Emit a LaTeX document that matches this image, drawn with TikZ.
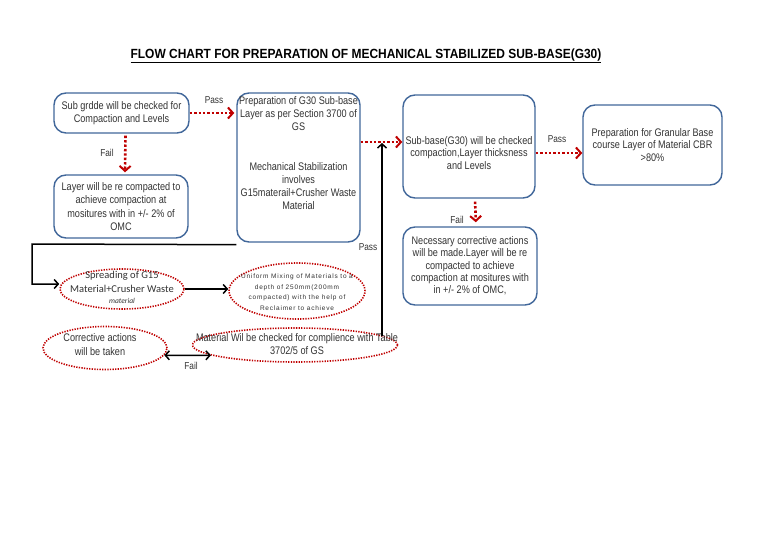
\documentclass[tikz,border=0pt]{standalone}
\usepackage{fontspec}
\setmainfont{Liberation Sans}[FakeStretch=0.83]
\newfontfamily\titlefont{Liberation Sans}[FakeStretch=0.9]
\newfontfamily\calfont{Carlito}
\newfontfamily\smallfont{Liberation Sans}[LetterSpace=12]
\usetikzlibrary{arrows.meta,shapes.geometric}
\definecolor{boxblue}{HTML}{41679A}
\definecolor{dotred}{HTML}{C00000}
\definecolor{txt}{HTML}{333333}
\begin{document}
\begin{tikzpicture}[x=1pt,y=-1pt,
 box/.style={draw=boxblue,line width=1.4pt,rounded corners=12pt,fill=white,align=center,text=txt,font=\fontsize{11}{12.8}\selectfont,inner sep=0pt},
 oval/.style={ellipse,draw=dotred,line width=1.6pt,dash pattern=on 1.3pt off 1.3pt,inner sep=0pt},
 redarrow/.style={draw=dotred,line width=2.6pt,dash pattern=on 2.4pt off 2pt,-{Straight Barb[length=5pt,width=11pt,line width=2pt]}},
 blackarrow/.style={draw=black,line width=1.5pt,-{Straight Barb[length=4pt,width=9pt]}},
 lbl/.style={text=txt,font=\fontsize{10}{11}\selectfont,inner sep=0pt},
 txtnode/.style={align=center,text=txt,font=\fontsize{11}{12.8}\selectfont,inner sep=0pt}]
\useasboundingbox[fill=white] (0,0) rectangle (768,543);

\node[font=\titlefont\fontsize{13.3}{15}\selectfont\bfseries,inner sep=0pt] (title) at (366,56) {\underline{FLOW CHART FOR PREPARATION OF MECHANICAL STABILIZED SUB-BASE(G30)}};

% boxes
\node[box,minimum width=135pt,minimum height=40pt] (b1) at (121.5,113) {Sub grdde will be checked for\\Compaction and Levels};
\node[box,minimum width=134pt,minimum height=63pt,font=\fontsize{11}{13.3}\selectfont] (b2) at (121,206.5) {Layer will be re compacted to\\achieve compaction at\\mositures with in +/- 2\% of\\OMC};
\node[box,minimum width=123pt,minimum height=149pt] (b3) at (298.5,167.5) {};
\node[txtnode,font=\fontsize{11}{13.1}\selectfont] (t3) at (298.5,153) {Preparation of G30 Sub-base\\Layer as per Section 3700 of\\GS\\[26.5pt]Mechanical Stabilization\\involves\\G15materail+Crusher Waste\\Material};
\node[box,minimum width=132pt,minimum height=103pt] (b4) at (469,146.5) {};
\node[txtnode] (t4) at (469,153) {Sub-base(G30) will be checked\\compaction,Layer thicksness\\and Levels};
\node[box,minimum width=139pt,minimum height=80pt] (b5) at (652.5,145) {Preparation for Granular Base\\course Layer of Material CBR\\>80\%};
\node[box,minimum width=134pt,minimum height=78pt,font=\fontsize{11}{12.3}\selectfont] (b6) at (470,266) {Necessary corrective actions\\will be made.Layer will be re\\compacted to achieve\\compaction at mositures with\\in +/- 2\% of OMC,};

% ellipses
\node[oval,minimum width=124pt,minimum height=40pt] (e1) at (122,289) {};
\node[align=center,text=txt,inner sep=0pt,font=\calfont\fontsize{10.5}{14}\selectfont] (t5) at (122,287) {Spreading of G15\\Material+Crusher Waste\\[-3pt]{\itshape\fontsize{7.5}{8}\selectfont material}};
\node[oval,minimum width=136pt,minimum height=56pt] (e2) at (297,291) {};
\node[align=center,text=txt,inner sep=0pt,font=\smallfont\fontsize{6.5}{10.6}\selectfont] (t6) at (297,292) {Uniform Mixing of Materials to a\\depth of 250mm(200mm\\compacted) with the help of\\Reclaimer to achieve};
\node[oval,minimum width=124pt,minimum height=43pt] (e3) at (105,348) {};
\node[txtnode,font=\fontsize{11}{14}\selectfont] (t7) at (100,345) {Corrective actions\\will be taken};
\node[oval,minimum width=205pt,minimum height=34pt] (e4) at (295,345) {};
\node[txtnode,font=\fontsize{11}{13}\selectfont] (t8) at (297,344) {Material Wil be checked for complience with Table\\3702/5 of GS};

% red connectors
\draw[redarrow,shorten >=2pt] (b1.east) -- (b1.east -| b3.west);
\draw[redarrow,shorten >=2pt,shorten <=2pt] ([xshift=4pt]b1.south) -- ([xshift=4pt]b2.north);
\draw[redarrow] ([yshift=25.5pt]b3.east) -- ([yshift=25.5pt]b3.east -| b4.west);
\draw[redarrow] ([yshift=-6.5pt]b4.east) -- ([yshift=-6.5pt]b4.east -| b5.west);
\draw[redarrow,shorten <=3pt,shorten >=4pt] ([xshift=6pt]b4.south) -- ([xshift=6pt]b6.north);

% black connectors
\coordinate (c1) at (32,244);
\draw[blackarrow] ([yshift=-2pt]b3.south west) -- (c1) |- ([yshift=5pt]e1.west);
\draw[blackarrow] (e1.east) -- (e1.east -| e2.west);
\coordinate (p) at (382,143);
\draw[blackarrow] (p |- e4.6) -- (p);
\draw[draw=black,line width=1.5pt,{Straight Barb[length=4pt,width=9pt]}-{Straight Barb[length=4pt,width=9pt]}] (e3.-7) -- (e4.187);

% labels
\node[lbl] (l1) at (214,100) {Pass};
\node[lbl] (l2) at (107,153) {Fail};
\node[lbl] (l3) at (557,139) {Pass};
\node[lbl] (l4) at (457,220) {Fail};
\node[lbl] (l5) at (368,247) {Pass};
\node[lbl] (l6) at (191,366) {Fail};
\end{tikzpicture}
\end{document}
